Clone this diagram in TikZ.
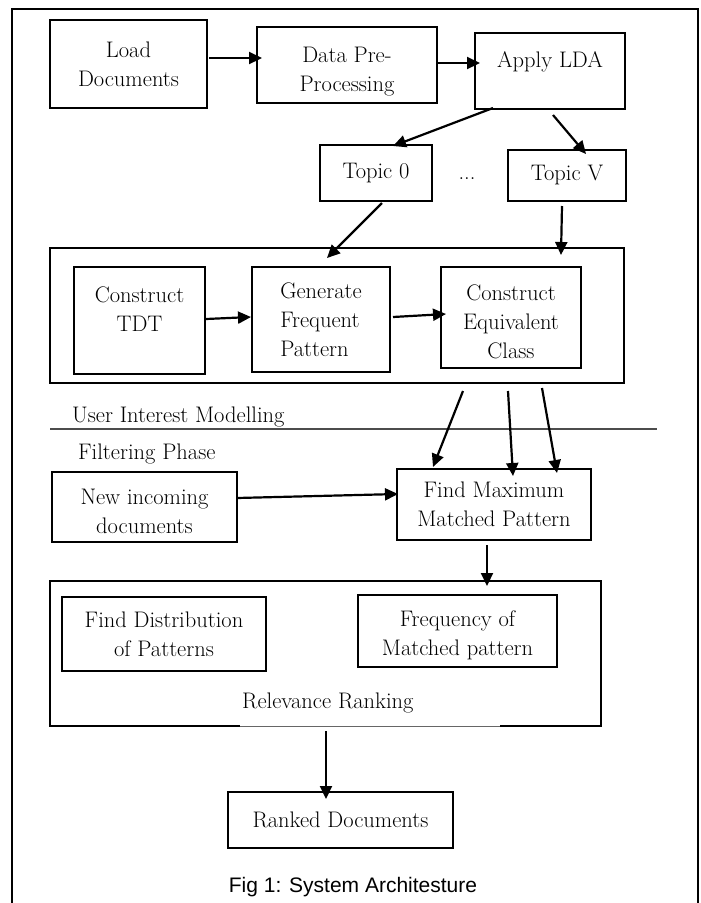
\documentclass[tikz,border=0pt]{standalone}
\usepackage{fontspec}
\newfontfamily\capfont{Liberation Sans}
\usetikzlibrary{arrows.meta, positioning, calc}

\begin{document}
\begin{tikzpicture}[x=1pt, y=-1pt,
    box/.style={rectangle, draw, line width=2.5pt, align=center, inner sep=2pt,
                outer sep=0pt, font=\fontsize{22.5}{29}\selectfont},
    frame/.style={rectangle, draw, line width=2.5pt, outer sep=0pt},
    txt/.style={font=\fontsize{22.5}{29}\selectfont, inner sep=0pt},
    arrow/.style={-{Triangle[length=13pt, width=12pt]}, line width=2.2pt}]

    \useasboundingbox (0,0) rectangle (701,903);

    % Frame
    \draw[line width=1.5pt] (12,906) -- (12,9) -- (698,9) -- (698,906);

    % Top row
    \node[box, minimum width=157pt, minimum height=88pt] (load) at (128.5,64) {Load\\Documents};
    \node[box, minimum width=180pt, minimum height=76pt, text height=58pt] (prep) at (347,65) {Data Pre-\\Processing};
    \node[box, minimum width=150pt, minimum height=76pt, text depth=22pt] (lda) at (550,71) {Apply LDA};

    % Topics
    \node[box, minimum width=112pt, minimum height=56pt] (topic0) at (376,173) {Topic 0};
    \node[txt, anchor=base] (dots) at (467,179) {...};
    \node[box, minimum width=118pt, minimum height=51pt] (topicv) at (567,175.5) {Topic V};

    % User interest modelling
    \node[frame, minimum width=574pt, minimum height=135pt] (uim) at (337,315.5) {};
    \node[box, minimum width=131pt, minimum height=107pt, text depth=22pt] (tdt) at (139.5,320.5) {Construct\\TDT};
    \node[box, minimum width=138pt, minimum height=105pt, align=left] (gen) at (321,319.5) {Generate\\Frequent\\Pattern};
    \node[box, minimum width=140pt, minimum height=101pt, text height=82pt] (cec) at (511,317.5) {Construct\\Equivalent\\Class};
    \node[txt, anchor=base west] (uimlabel) at (72,422) {User Interest Modelling};
    \coordinate (sepL) at (50,429);
    \coordinate (sepR) at (657,429);
    \draw[black!70, line width=1.2pt] (sepL) -- (sepR);
    \node[txt, anchor=base west] (filterlabel) at (78,459) {Filtering Phase};

    % Filtering phase
    \node[box, minimum width=185pt, minimum height=70pt, text height=54pt] (newdoc) at (144.5,507) {New incoming\\documents};
    \node[box, minimum width=194pt, minimum height=71pt] (findmax) at (494,504.5) {Find Maximum\\Matched Pattern};

    % Relevance ranking
    \node[frame, minimum width=551pt, minimum height=145pt] (rr) at (325.5,653.5) {};
    \draw[white, line width=3.2pt] ($(rr.south west)+(190,0)$) -- ($(rr.south west)+(450,0)$);
    \draw[black!60, line width=0.8pt] ($(rr.south west)+(190,0)$) -- ($(rr.south west)+(450,0)$);
    \node[box, minimum width=204pt, minimum height=74pt] (dist) at (164,634) {Find Distribution\\of Patterns};
    \node[box, minimum width=199pt, minimum height=72pt, text height=54pt] (freq) at (457.5,631) {Frequency of\\Matched pattern};
    \node[txt, anchor=base west] (rrlabel) at (242,708) {Relevance Ranking};
    \node[box, minimum width=225pt, minimum height=56pt] (ranked) at (340.5,820) {Ranked Documents};

    % Caption
    \node[anchor=base, font=\capfont\fontsize{21}{25}\selectfont] (caption) at (353,892) {Fig 1: System Architesture};

    % Arrows
    \draw[arrow] ($(load.east)+(2,-6)$) -- ($(prep.west)+(5,-7)$);
    \draw[arrow] ($(prep.east)+(1,-2)$) -- ($(lda.west)+(5,-8)$);
    \draw[arrow] ($(lda.south)+(-57,-1)$) -- ($(topic0.north)+(17,1)$);
    \draw[arrow] ($(lda.south)+(3,6)$) -- ($(topicv.north)+(19,4)$);
    \draw[arrow] ($(topic0.south)+(6,2)$) -- ($(gen.north)+(6,-9)$);
    \draw[arrow] ($(topicv.south)+(-5,5)$) -- ($(uim.north east)+(-63,7)$);
    \draw[arrow] ($(tdt.east)+(1,-1.5)$) -- ($(gen.west)+(-1,-2.5)$);
    \draw[arrow] ($(gen.east)+(3,-2.5)$) -- ($(cec.west)+(5,-3.5)$);
    \draw[arrow] ($(uim.south east)+(-161,8)$) -- ($(findmax.north)+(-61,-2)$);
    \draw[arrow] ($(uim.south east)+(-116,8)$) -- ($(findmax.north)+(19,7)$);
    \draw[arrow] ($(uim.south east)+(-82,5)$) -- ($(findmax.north)+(63,4)$);
    \draw[arrow] ($(newdoc.east)+(0,-9)$) -- ($(findmax.west)+(1,-10.5)$);
    \draw[arrow] ($(findmax.south)+(-7,5)$) -- ($(rr.north east)+(-114,5)$);
    \draw[arrow] ($(rr.south)+(0.5,5)$) -- ($(ranked.north)+(-14.5,7)$);
\end{tikzpicture}
\end{document}
